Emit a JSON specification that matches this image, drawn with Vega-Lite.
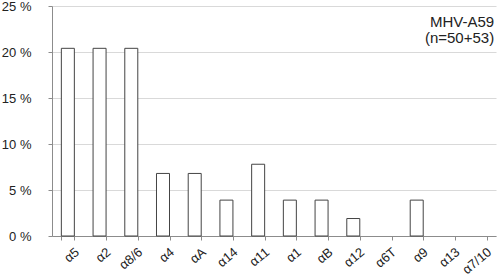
{
  "$schema": "https://vega.github.io/schema/vega-lite/v6.json",
  "width": 444,
  "height": 230,
  "autosize": {"type": "none"},
  "padding": {"left": 52, "top": 6, "right": 2, "bottom": 41},
  "config": {
    "view": {"stroke": null},
    "font": "Liberation Sans",
    "axis": {"labelFont": "Liberation Sans", "labelColor": "#222", "labelFontSize": 13, "domainColor": "#8c8c8c", "tickColor": "#8c8c8c", "gridColor": "#d9d9d9"}
  },
  "data": {"values": [
    {"g": "α5", "v": 0.204},
    {"g": "α2", "v": 0.204},
    {"g": "α8/6", "v": 0.204},
    {"g": "α4", "v": 0.068},
    {"g": "αA", "v": 0.068},
    {"g": "α14", "v": 0.039},
    {"g": "α11", "v": 0.078},
    {"g": "α1", "v": 0.039},
    {"g": "αB", "v": 0.039},
    {"g": "α12", "v": 0.019},
    {"g": "α6T", "v": 0},
    {"g": "α9", "v": 0.039},
    {"g": "α13", "v": 0},
    {"g": "α7/10", "v": 0}
  ]},
  "encoding": {
    "x": {"field": "g", "type": "nominal", "sort": null,
          "scale": {"paddingInner": 0.59, "paddingOuter": 0.295},
          "axis": {"title": null, "labelAngle": -40, "labelAlign": "right", "labelBaseline": "middle", "tickBand": "extent", "tickSize": 4, "labelPadding": 10, "labelOffset": 9, "labelFontSize": 13, "grid": false}},
    "y": {"field": "v", "type": "quantitative",
          "scale": {"domain": [0, 0.25], "nice": false},
          "axis": {"title": null, "values": [0, 0.05, 0.1, 0.15, 0.2, 0.25], "labelExpr": "round(datum.value*100) + ' %'", "tickSize": 4, "labelPadding": 17, "grid": true, "domain": true}}
  },
  "layer": [
    {
      "mark": {"type": "bar", "fill": "white", "stroke": "#444", "strokeWidth": 1},
      "encoding": {
        "strokeOpacity": {"condition": {"test": "datum.v > 0", "value": 1}, "value": 0}
      }
    },
    {
      "data": {"values": [
        {"t": "MHV-A59", "g": "α7/10", "v": 0.2326},
        {"t": "(n=50+53)", "g": "α7/10", "v": 0.2147}
      ]},
      "mark": {"type": "text", "align": "right", "baseline": "middle", "fontSize": 15, "color": "#222", "dx": 14, "font": "Liberation Sans"},
      "encoding": {
        "text": {"field": "t"}
      }
    }
  ]
}
